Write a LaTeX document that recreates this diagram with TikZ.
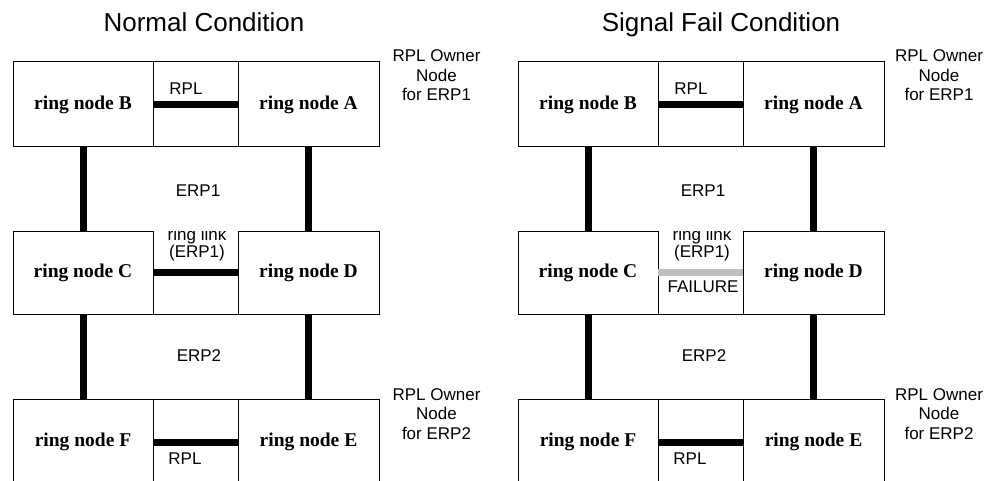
\documentclass[tikz,border=0pt]{standalone}
\usepackage{fontspec}
\setmainfont{Liberation Serif}
\setsansfont{Liberation Sans}
\usepackage{tikz}
\usetikzlibrary{
  positioning
}
\tikzset{
  ringcell/.style={
    draw=black,
    line width=1pt,
    inner sep=0pt,
    outer sep=0pt,
    minimum height=85pt,
    font=\fontsize{19.5}{19.5}\selectfont\bfseries,
  },
  gapcell/.style={
    draw=black,
    line width=1pt,
    inner sep=0pt,
    outer sep=0pt,
    minimum width=85pt,
    minimum height=85pt,
  },
  link/.style={
    line width=7pt,
    draw=black,
  },
  faillink/.style={
    line width=7pt,
    draw=black!25,
  },
  lbl/.style={
    font=\sffamily\fontsize{17}{17}\selectfont,
    inner sep=0pt,
    align=center,
  },
  ownerlbl/.style={
    font=\sffamily\fontsize{17}{19.5}\selectfont,
    inner sep=0pt,
    align=center,
  },
  titlelbl/.style={
    font=\sffamily\fontsize{26}{26}\selectfont,
    inner sep=0pt,
  },
}
\begin{document}
\begin{tikzpicture}[x=1pt, y=-1pt]
  \useasboundingbox (0,0) rectangle (1006,481);

  % Titles
  \node[titlelbl, anchor=base] (tnorm) at (204,32) {Normal Condition};
  \node[titlelbl, anchor=base] (tfail) at (721,32) {Signal Fail Condition};

  % Normal condition — row 1 (ERP1 RPL)
  \node[ringcell, minimum width=140pt] (nB) at (83,104.5) {ring node B};
  \node[gapcell, right=0pt of nB] (nBA) {};
  \node[ringcell, minimum width=141pt, right=0pt of nBA] (nA) {ring node A};

  % Normal condition — row 2 (ring link)
  \node[ringcell, minimum width=140pt, minimum height=83pt] (nC) at (83,272.5) {ring node C};
  \node[gapcell, draw=none, minimum height=83pt, right=0pt of nC] (nCD) {};
  \node[ringcell, minimum width=141pt, minimum height=83pt, right=0pt of nCD] (nD) {ring node D};
  \draw[line width=1pt] (nCD.south west) -- (nCD.south east);

  % Normal condition — row 3 (ERP2 RPL)
  \node[ringcell, minimum width=140pt, minimum height=86pt] (nF) at (83,442) {ring node F};
  \node[gapcell, minimum height=86pt, right=0pt of nF] (nFE) {};
  \node[ringcell, minimum width=141pt, minimum height=86pt, right=0pt of nFE] (nE) {ring node E};

  \draw[link] (nB) -- (nA);
  \draw[link] (nC) -- (nD);
  \draw[link] (nF) -- (nE);
  \draw[link] (nB) -- (nC);
  \draw[link] (nA) -- (nD);
  \draw[link] (nC) -- (nF);
  \draw[link] (nD) -- (nE);

  \node[lbl] (nrpl1) at (186,89) {RPL};
  \node[lbl] (nerp1) at (198,191) {ERP1};
  \begin{scope}
    \clip (nCD.north west) rectangle (nCD.south east);
    \node[lbl] (nring) at (197,244.5) {ring link\\(ERP1)};
  \end{scope}
  \node[lbl] (nerp2) at (199,356) {ERP2};
  \node[lbl] (nrpl2) at (185,459) {RPL};
  \node[ownerlbl] (nown1) at (436.5,75.5) {RPL Owner\\Node\\for ERP1};
  \node[ownerlbl] (nown2) at (436.5,414) {RPL Owner\\Node\\for ERP2};

  % Signal fail condition — row 1
  \node[ringcell, minimum width=140pt] (sB) at (588,104.5) {ring node B};
  \node[gapcell, right=0pt of sB] (sBA) {};
  \node[ringcell, minimum width=141pt, right=0pt of sBA] (sA) {ring node A};

  % Signal fail condition — row 2 (failed ring link)
  \node[ringcell, minimum width=140pt, minimum height=83pt] (sC) at (588,272.5) {ring node C};
  \node[gapcell, draw=none, minimum height=83pt, right=0pt of sC] (sCD) {};
  \node[ringcell, minimum width=141pt, minimum height=83pt, right=0pt of sCD] (sD) {ring node D};
  \draw[line width=1pt] (sCD.south west) -- (sCD.south east);

  % Signal fail condition — row 3
  \node[ringcell, minimum width=140pt, minimum height=86pt] (sF) at (588,442) {ring node F};
  \node[gapcell, minimum height=86pt, right=0pt of sF] (sFE) {};
  \node[ringcell, minimum width=141pt, minimum height=86pt, right=0pt of sFE] (sE) {ring node E};

  \draw[link] (sB) -- (sA);
  \draw[faillink] (sC) -- (sD);
  \draw[link] (sF) -- (sE);
  \draw[link] (sB) -- (sC);
  \draw[link] (sA) -- (sD);
  \draw[link] (sC) -- (sF);
  \draw[link] (sD) -- (sE);

  \node[lbl] (srpl1) at (691,89) {RPL};
  \node[lbl] (serp1) at (703,191) {ERP1};
  \begin{scope}
    \clip (sCD.north west) rectangle (sCD.south east);
    \node[lbl] (sring) at (702,244.5) {ring link\\(ERP1)};
  \end{scope}
  \node[lbl] (sfail) at (703,286.5) {FAILURE};
  \node[lbl] (serp2) at (704,356) {ERP2};
  \node[lbl] (srpl2) at (690,459) {RPL};
  \node[ownerlbl] (sown1) at (939,75.5) {RPL Owner\\Node\\for ERP1};
  \node[ownerlbl] (sown2) at (939,414) {RPL Owner\\Node\\for ERP2};
\end{tikzpicture}
\end{document}
